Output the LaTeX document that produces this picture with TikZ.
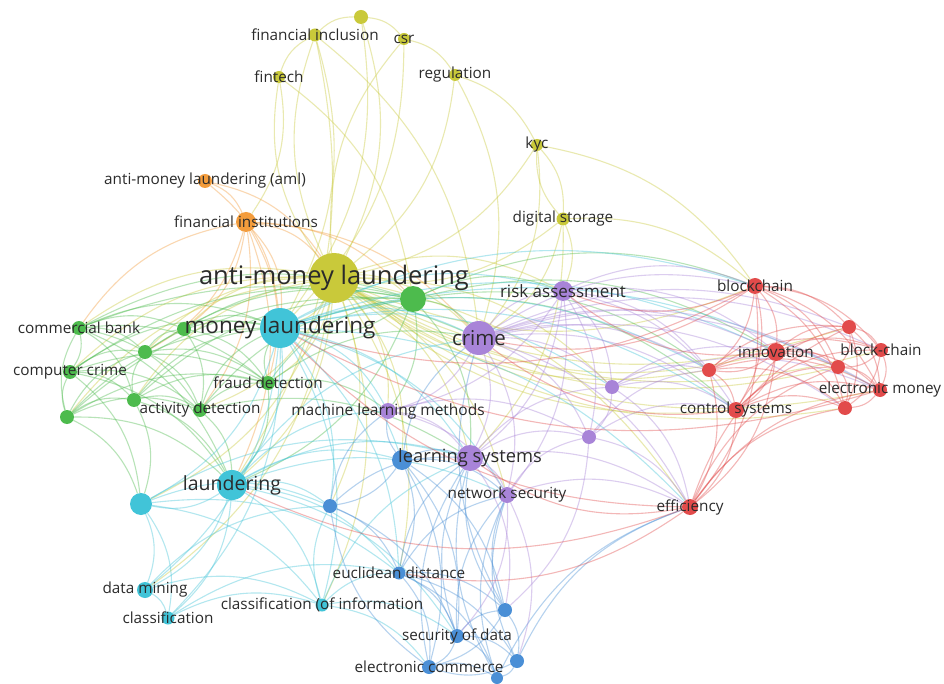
\documentclass[tikz,border=0pt]{standalone}
\usepackage{fontspec}
\setmainfont{Open Sans}
\usetikzlibrary{positioning}
\pgfdeclarelayer{bg}
\pgfsetlayers{bg,main}
\definecolor{ylw}{HTML}{C9C93A}
\definecolor{org}{HTML}{F39C3C}
\definecolor{grn}{HTML}{4DBB4D}
\definecolor{cyn}{HTML}{41C4D8}
\definecolor{blu}{HTML}{4A8FD6}
\definecolor{prp}{HTML}{A884D8}
\definecolor{rd}{HTML}{E24B4B}
\definecolor{txt}{HTML}{2B2B2B}

\begin{document}
\begin{tikzpicture}[
    x=1pt, y=-1pt,
    dot/.style={circle, inner sep=0pt, minimum size=#1},
    ydot/.style={dot=#1, fill=ylw},
    odot/.style={dot=#1, fill=org},
    gdot/.style={dot=#1, fill=grn},
    cdot/.style={dot=#1, fill=cyn},
    bdot/.style={dot=#1, fill=blu},
    pdot/.style={dot=#1, fill=prp},
    rdot/.style={dot=#1, fill=rd},
    lbl/.style={text=txt, inner sep=0pt, font=\fontsize{#1}{#1}\selectfont},
    lbl/.default=15.3,
    link/.style={line width=1.1pt, opacity=0.4, bend left=22},
    ]
    \useasboundingbox (0,0) rectangle (944,684);

    % yellow cluster
    \node[ydot=14] (y0) at (361,17) {};
    \node[ydot=13] (fincl) at (315,35) {};
    \node[ydot=12] (csr) at (404,39) {};
    \node[ydot=12] (fintech) at (279,77) {};
    \node[ydot=12] (regul) at (455,75) {};
    \node[ydot=12] (kyc) at (537,145) {};
    \node[ydot=13] (digst) at (563,219) {};
    \node[ydot=50] (aml) at (334,278) {};
    % orange cluster
    \node[odot=14] (amlabbr) at (205,181) {};
    \node[odot=20] (finst) at (246,222) {};
    % green cluster
    \node[gdot=26] (g0) at (413,299) {};
    \node[gdot=14] (combank) at (79,328) {};
    \node[gdot=14] (g1) at (184,329) {};
    \node[gdot=14] (g2) at (145,352) {};
    \node[gdot=14] (compcr) at (70,372) {};
    \node[gdot=14] (g3) at (134,400) {};
    \node[gdot=14] (g4) at (67,417) {};
    \node[gdot=14] (actdet) at (200,410) {};
    \node[gdot=14] (fraud) at (268,383) {};
    % cyan cluster
    \node[cdot=40] (ml) at (280,328) {};
    \node[cdot=30] (laund) at (232,485) {};
    \node[cdot=22] (c1) at (141,504) {};
    \node[cdot=16] (dmin) at (145,590) {};
    \node[cdot=13] (classif) at (168,618) {};
    \node[cdot=13] (classinf) at (322,605) {};
    % blue cluster
    \node[bdot=20] (b0) at (402,460) {};
    \node[bdot=14] (b1) at (330,506) {};
    \node[bdot=13] (eucl) at (399,573) {};
    \node[bdot=14] (secdata) at (457,636) {};
    \node[bdot=14] (b2) at (505,610) {};
    \node[bdot=14] (b3) at (517,661) {};
    \node[bdot=14] (ecom) at (429,667) {};
    \node[bdot=12] (b4) at (497,678) {};
    % purple cluster
    \node[pdot=34] (crime) at (479,338) {};
    \node[pdot=20] (risk) at (563,291) {};
    \node[pdot=16] (mlm) at (388,411) {};
    \node[pdot=26] (learn) at (470,458) {};
    \node[pdot=16] (netsec) at (507,495) {};
    \node[pdot=14] (p1) at (612,387) {};
    \node[pdot=14] (p2) at (589,437) {};
    % red cluster
    \node[rdot=16] (blockchain) at (755,286) {};
    \node[rdot=18] (innov) at (776,352) {};
    \node[rdot=14] (r1) at (709,370) {};
    \node[rdot=16] (ctrl) at (736,410) {};
    \node[rdot=14] (r2) at (849,327) {};
    \node[rdot=14] (blockc) at (881,350) {};
    \node[rdot=14] (r3) at (838,367) {};
    \node[rdot=14] (emoney) at (880,390) {};
    \node[rdot=14] (r4) at (845,408) {};
    \node[rdot=16] (effic) at (690,507) {};

    \begin{pgfonlayer}{bg}
      \fill[white] (0,0) rectangle (944,684);
      \foreach \a/\b in {aml/fincl, aml/csr, aml/fintech, regul/aml, kyc/aml,
          digst/aml, y0/aml, fincl/y0, y0/csr, fintech/fincl, csr/regul,
          regul/kyc, kyc/digst, digst/kyc, kyc/blockchain, fintech/g0,
          fintech/finst, fincl/ml, fincl/laund, csr/ml, regul/crime, kyc/crime,
          digst/crime, digst/risk, digst/blockchain, digst/learn, fincl/crime,
          y0/ml, aml/ml, aml/crime, aml/g0, aml/laund, aml/risk, blockchain/aml,
          innov/aml, ctrl/aml, aml/mlm, aml/learn, aml/fraud, aml/actdet,
          combank/aml, compcr/aml, g1/aml, g2/aml, g3/aml, g4/aml, aml/c1,
          aml/eucl, aml/b1, aml/p1, r1/aml, emoney/aml, blockc/aml, aml/b0,
          aml/netsec, aml/effic, aml/dmin, aml/classinf, r2/aml, r3/aml, r4/aml}
        \draw[link, ylw] (\a) to (\b);
      \foreach \a/\b in {amlabbr/finst, amlabbr/ml, amlabbr/aml, finst/ml,
          finst/aml, combank/finst, finst/g1, finst/fraud, finst/crime,
          finst/laund, finst/g0, finst/actdet, finst/g2}
        \draw[link, org] (\a) to (\b);
      \foreach \a/\b in {combank/g1, combank/g2, combank/compcr, combank/g3,
          g4/combank, combank/actdet, combank/fraud, combank/ml, combank/g0,
          combank/laund, compcr/g2, compcr/g3, g4/compcr, compcr/actdet,
          compcr/ml, compcr/fraud, compcr/laund, g4/g3, g4/actdet, g4/g2, g4/ml,
          g4/laund, g4/c1, g4/fraud, g2/g1, g2/ml, g2/actdet, g2/fraud, g3/g2,
          g3/actdet, g3/ml, g3/fraud, g3/laund, g1/ml, g1/fraud, g1/actdet,
          g1/g0, actdet/fraud, actdet/ml, actdet/laund, actdet/g0, actdet/learn,
          fraud/ml, fraud/g0, fraud/crime, fraud/laund, fraud/mlm, g0/ml,
          g0/crime, g0/laund, g0/learn, g0/mlm, g0/risk, g0/blockchain, g0/innov,
          g0/r1, g0/ctrl, compcr/g0, g4/g0, combank/crime, g3/g0, g2/g0,
          compcr/c1, g3/c1}
        \draw[link, grn] (\a) to (\b);
      \foreach \a/\b in {ml/laund, ml/c1, ml/dmin, ml/classif, ml/classinf,
          ml/crime, ml/learn, ml/mlm, ml/b0, ml/b1, ml/eucl, ml/netsec, ml/risk,
          ml/innov, ml/ctrl, ml/blockchain, ml/r1, ml/emoney, ml/p1, laund/c1,
          laund/dmin, laund/classif, laund/classinf, laund/b1, laund/learn,
          laund/b0, laund/eucl, laund/crime, laund/mlm, laund/secdata, c1/dmin,
          c1/classif, c1/classinf, c1/b1, c1/learn, dmin/classif, dmin/classinf,
          classif/classinf, classif/eucl, classinf/eucl, classinf/b1,
          classinf/learn, classinf/ecom, classinf/secdata, ml/effic, c1/eucl,
          dmin/b1, laund/netsec}
        \draw[link, cyn] (\a) to (\b);
      \foreach \a/\b in {b0/learn, b0/mlm, b0/b1, b0/eucl, b0/netsec,
          b0/secdata, b0/ecom, b0/b2, b0/crime, b1/eucl, b1/learn, b1/mlm,
          b1/secdata, eucl/secdata, eucl/b2, eucl/ecom, eucl/b3, eucl/learn,
          eucl/netsec, eucl/b4, secdata/ecom, secdata/b2, secdata/b3, secdata/b4,
          secdata/learn, secdata/netsec, b2/b3, b2/ecom, b2/netsec, b2/learn,
          b3/ecom, b3/b4, b3/netsec, b3/effic, ecom/b4, ecom/learn, ecom/b1,
          b4/learn, b4/netsec, b2/crime, b4/effic}
        \draw[link, blu] (\a) to (\b);
      \foreach \a/\b in {crime/risk, crime/mlm, crime/learn, crime/netsec,
          crime/p1, crime/p2, crime/blockchain, crime/innov, crime/ctrl,
          crime/r1, crime/emoney, crime/effic, crime/r2, crime/blockc, crime/r3,
          crime/r4, risk/p1, risk/learn, risk/mlm, risk/netsec, risk/blockchain,
          risk/innov, risk/r1, risk/ctrl, risk/p2, mlm/learn, mlm/netsec,
          mlm/p2, learn/netsec, learn/p2, learn/p1, learn/effic, learn/b2,
          netsec/p2, netsec/effic, netsec/secdata, netsec/b3, p1/r1, p1/ctrl,
          p1/innov, p1/p2, p1/effic, p2/r1, p2/b2, p2/effic, p1/emoney, p2/ctrl}
        \draw[link, prp] (\a) to (\b);
      \foreach \a/\b in {blockchain/innov, blockchain/r1, blockchain/ctrl,
          blockchain/r2, blockchain/blockc, blockchain/r3, blockchain/emoney,
          blockchain/r4, blockchain/effic, innov/r1, innov/ctrl, innov/r2,
          innov/blockc, innov/r3, innov/emoney, innov/r4, innov/effic, r1/ctrl,
          r1/r2, r1/blockc, r1/r3, r1/emoney, r1/r4, r1/effic, ctrl/r2,
          ctrl/blockc, ctrl/r3, ctrl/emoney, ctrl/r4, ctrl/effic, r2/blockc,
          r2/r3, r2/emoney, r2/r4, blockc/r3, blockc/emoney, blockc/r4,
          r3/emoney, r3/r4, emoney/r4, effic/r2, effic/r4, effic/r3,
          effic/emoney, blockchain/risk, blockchain/ml, effic/ml, effic/learn,
          effic/laund, innov/risk, blockchain/crime, ctrl/crime, emoney/ml,
          effic/eucl}
        \draw[link, rd] (\a) to (\b);
    \end{pgfonlayer}

    % labels
    \node[lbl] (fincl-t) at (fincl) {financial inclusion};
    \node[lbl] (csr-t) at (csr) {csr};
    \node[lbl] (fintech-t) at (fintech) {fintech};
    \node[lbl] (regul-t) at (regul) {regulation};
    \node[lbl] (kyc-t) at (kyc) {kyc};
    \node[lbl] (digst-t) at (digst) {digital storage};
    \node[lbl=25.5] (aml-t) at (aml) {anti-money laundering};
    \node[lbl] (amlabbr-t) at (amlabbr) {anti-money laundering (aml)};
    \node[lbl] (finst-t) at (finst) {financial institutions};
    \node[lbl] (combank-t) at (combank) {commercial bank};
    \node[lbl] (compcr-t) at (compcr) {computer crime};
    \node[lbl] (actdet-t) at (actdet) {activity detection};
    \node[lbl] (fraud-t) at (fraud) {fraud detection};
    \node[lbl=22.5] (ml-t) at (ml) {money laundering};
    \node[lbl=19.5] (laund-t) at (laund) {laundering};
    \node[lbl] (dmin-t) at (dmin) {data mining};
    \node[lbl] (classif-t) at (classif) {classification};
    \node[lbl] (classinf-t) at (classinf) {classification (of information};
    \node[lbl] (eucl-t) at (eucl) {euclidean distance};
    \node[lbl] (secdata-t) at (secdata) {security of data};
    \node[lbl] (ecom-t) at (ecom) {electronic commerce};
    \node[lbl=20.5] (crime-t) at (crime) {crime};
    \node[lbl=17] (risk-t) at (risk) {risk assessment};
    \node[lbl=15.5] (mlm-t) at (mlm) {machine learning methods};
    \node[lbl=18.3] (learn-t) at (learn) {learning systems};
    \node[lbl] (netsec-t) at (netsec) {network security};
    \node[lbl] (blockchain-t) at (blockchain) {blockchain};
    \node[lbl] (innov-t) at (innov) {innovation};
    \node[lbl] (blockc-t) at (blockc) {block-chain};
    \node[lbl] (emoney-t) at (emoney) {electronic money};
    \node[lbl] (ctrl-t) at (ctrl) {control systems};
    \node[lbl] (effic-t) at (effic) {efficiency};
  \end{tikzpicture}
\end{document}
